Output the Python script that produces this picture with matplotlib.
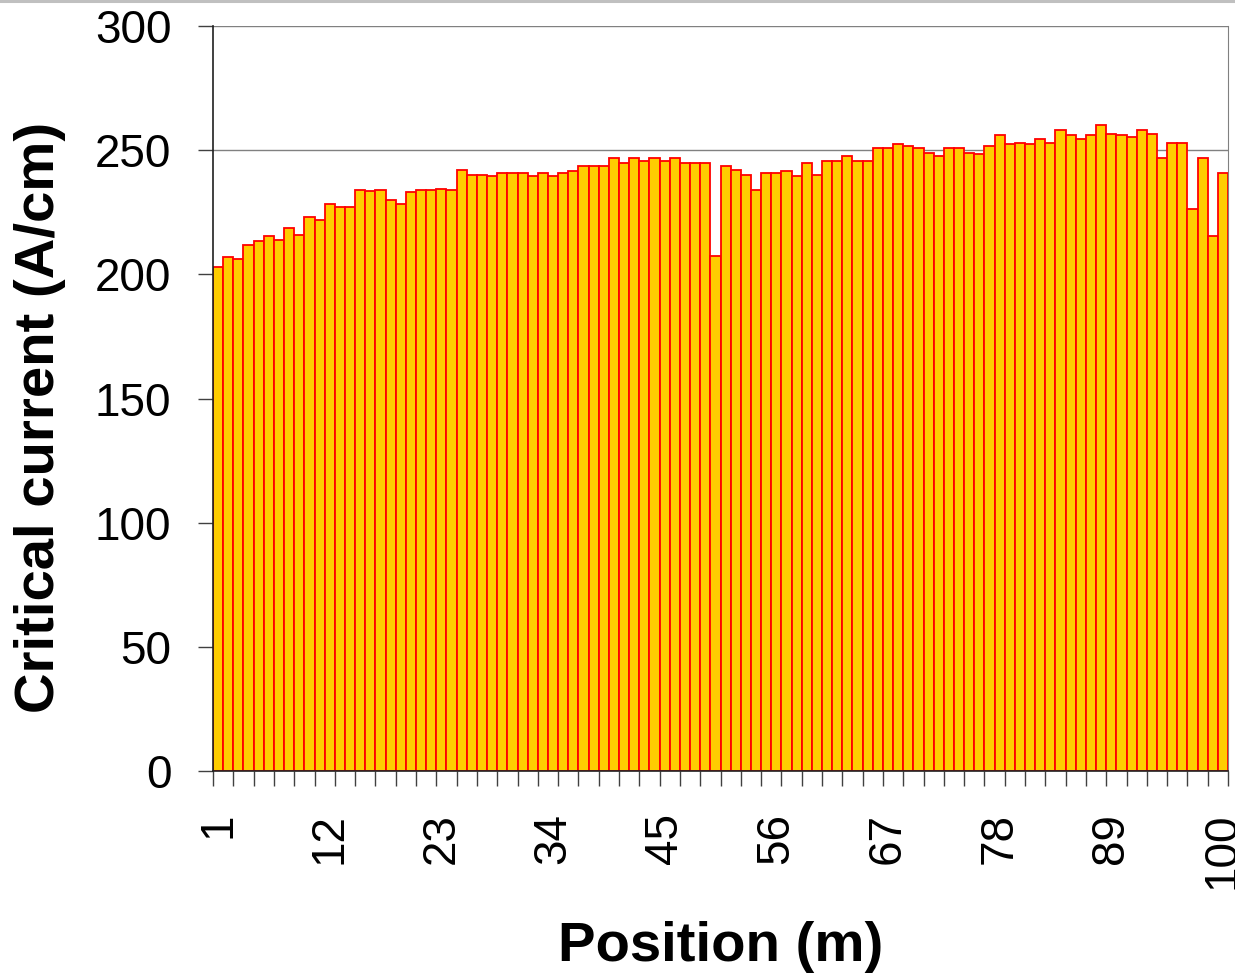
import numpy as np
import matplotlib.pyplot as plt
from matplotlib.lines import Line2D

plt.rcParams['font.family'] = ['Liberation Sans', 'DejaVu Sans']

# critical current per metre of tape, positions 1..100
positions = np.arange(1, 101)
current = [
    203, 207, 206, 212, 213.5, 215.5, 214, 218.5, 216, 223,
    222, 228.5, 227, 227, 234, 233.5, 234, 230, 228.5, 233,
    234, 234, 234.5, 234, 242, 240, 240, 239.5, 241, 241,
    241, 239.5, 241, 239.5, 241, 241.5, 243.5, 243.5, 243.5, 247,
    245, 247, 245.5, 247, 245.5, 247, 245, 245, 245, 207.5,
    243.5, 242, 240, 234, 241, 241, 241.5, 239.5, 245, 240,
    245.5, 245.5, 247.5, 245.5, 245.5, 251, 251, 252.5, 251.5, 251,
    249, 247.5, 251, 251, 249, 248.5, 251.5, 256, 252.5, 253,
    252.5, 254.5, 253, 258, 256, 254.5, 256, 260, 256.5, 256,
    255.5, 258, 256.5, 247, 253, 253, 226.5, 247, 215.5, 241,
]
xtick_labels = [1, 12, 23, 34, 45, 56, 67, 78, 89, 100]
yticks = [0, 50, 100, 150, 200, 250, 300]

fig = plt.figure(figsize=(12.35, 9.76), dpi=100)
ax = fig.add_axes([213/1235, 205/976, 1015/1235, 745/976])

# thin grey band along the top edge of the image
fig.add_artist(Line2D([0, 1], [0.9985, 0.9985], color='#c0c0c0', linewidth=2.2,
                      transform=fig.transFigure))

ax.bar(positions, current, width=1.0, color='#ffcc00', edgecolor='#ff0000',
       linewidth=1.3, zorder=2)

ax.set_xlim(0.5, 100.5)
ax.set_ylim(0, 300)
ax.set_yticks(yticks)
ax.yaxis.grid(True, color='#808080', linewidth=1.0, zorder=0)
ax.set_axisbelow(True)

ax.set_xticks(xtick_labels)
ax.set_xticklabels([str(v) for v in xtick_labels], rotation=90)
ax.set_xticks(np.arange(0.5, 101, 2), minor=True)
ax.tick_params(axis='x', which='major', length=0, pad=30, labelsize=33)
ax.tick_params(axis='x', which='minor', length=11, width=1.0, color='#404040',
               direction='out')
ax.tick_params(axis='y', length=11, width=1.0, color='#404040', pad=19,
               labelsize=33)

for side in ['left', 'bottom']:
    ax.spines[side].set_color('#202020')
    ax.spines[side].set_linewidth(1.2)
ax.spines['right'].set_color('#808080')
ax.spines['top'].set_visible(False)

fig.text(40/1235, 1 - 417/976, 'Critical current (A/cm)', rotation=90,
         fontsize=40.5, fontweight='bold', ha='center', va='center')
fig.text(721/1235, 1 - 947/976, 'Position (m)', fontsize=40.5,
         fontweight='bold', ha='center', va='center')

fig.savefig('out.png', dpi=100)
